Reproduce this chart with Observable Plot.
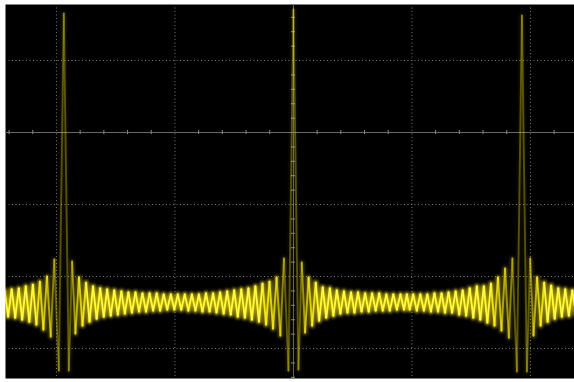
<!DOCTYPE html>
<html><head><meta charset="utf-8">
<script src="https://cdn.jsdelivr.net/npm/d3@7"></script>
<script src="https://cdn.jsdelivr.net/npm/@observablehq/plot@0.6"></script>
<style>html,body{margin:0;padding:0;background:#fff;} #chart svg{display:block}</style>
</head><body><div id="chart"></div>
<script>
// Oscilloscope record: time of each extreme (ns) and its level (V). 10 ns/div, 0.5 V/div.
const timeNs = [
-24.67,-24.38,-24.08,-23.78,-23.48,-23.18,-22.89,-22.59,-22.29,-21.99,-21.69,-21.40,-21.10,-20.80,-20.48,-20.18,-19.80,
-19.38,
-18.96,-18.68,-18.40,-18.10,-17.80,-17.50,-17.21,-16.91,-16.61,-16.31,-16.01,-15.72,-15.42,-15.12,-14.82,-14.52,
-14.23,-13.93,-13.63,-13.33,-13.03,-12.74,-12.44,-12.14,-11.84,-11.54,-11.25,-10.95,-10.65,-10.35,-10.05,
-9.76,
-9.47,-9.17,-8.87,-8.57,-8.27,-7.98,-7.68,-7.38,-7.08,-6.78,-6.49,-6.19,-5.89,-5.59,-5.29,-5.00,
-4.70,-4.40,-4.10,-3.80,-3.51,-3.21,-2.91,-2.61,-2.31,-2.02,-1.72,-1.42,-1.10,-0.80,-0.42,
0,
0.42,0.70,0.98,1.28,1.58,1.88,2.17,2.47,2.77,3.07,3.37,3.66,3.96,4.26,4.56,4.86,
5.15,5.45,5.75,6.05,6.35,6.64,6.94,7.24,7.54,7.84,8.13,8.43,8.73,9.03,9.33,
9.57,
9.81,10.11,10.41,10.71,11.01,11.30,11.60,11.90,12.20,12.50,12.79,13.09,13.39,13.69,13.99,14.28,
14.58,14.88,15.18,15.48,15.77,16.07,16.37,16.67,16.97,17.26,17.56,17.86,18.18,18.48,18.86,
19.28,
19.70,19.98,20.26,20.56,20.86,21.16,21.45,21.75,22.05,22.35,22.65,22.94,23.24,23.54,23.84
];
const volts = [
-1.264,-1.097,-1.278,-1.090,-1.285,-1.083,-1.299,-1.069,-1.313,-1.056,-1.333,-1.035,-1.368,-1.000,-1.417,-0.882,-1.653,
0.826,
-1.653,-0.896,-1.396,-1.007,-1.340,-1.042,-1.313,-1.069,-1.292,-1.083,-1.278,-1.090,-1.271,-1.097,-1.264,-1.104,
-1.257,-1.111,-1.250,-1.111,-1.243,-1.118,-1.243,-1.118,-1.236,-1.118,-1.236,-1.125,-1.229,-1.125,-1.229,
-1.125,
-1.229,-1.125,-1.236,-1.125,-1.236,-1.125,-1.243,-1.118,-1.243,-1.118,-1.250,-1.111,-1.257,-1.104,-1.264,-1.097,
-1.278,-1.090,-1.285,-1.083,-1.299,-1.069,-1.313,-1.049,-1.333,-1.035,-1.361,-1.007,-1.410,-0.875,-1.653,
0.854,
-1.646,-0.903,-1.389,-1.007,-1.340,-1.042,-1.306,-1.076,-1.285,-1.083,-1.271,-1.097,-1.257,-1.104,-1.250,-1.111,
-1.250,-1.111,-1.243,-1.118,-1.243,-1.118,-1.236,-1.118,-1.236,-1.125,-1.236,-1.125,-1.229,-1.125,-1.229,
-1.125,
-1.229,-1.125,-1.236,-1.125,-1.236,-1.125,-1.243,-1.118,-1.243,-1.118,-1.250,-1.111,-1.250,-1.104,-1.264,-1.097,
-1.271,-1.083,-1.285,-1.069,-1.299,-1.069,-1.319,-1.049,-1.340,-1.007,-1.375,-0.944,-1.424,-0.875,-1.660,
0.813,
-1.660,-0.875,-1.410,-1.007,-1.340,-1.042,-1.313,-1.063,-1.292,-1.083,-1.278,-1.090,-1.271,-1.097,-1.264
];
// graticule
const gridTimes = [-20, -10, 10, 20];
const gridVolts = [0.5, -0.5, -1.0, -1.5];
const minorTimes = [-24,-22,-18,-16,-14,-12,-8,-6,-4,-2,2,4,6,8,12,14,16,18,22];
const minorVolts = [0.8,0.7,0.6,0.4,0.3,0.2,0.1,-0.1,-0.2,-0.3,-0.4,-0.6,-0.7,-0.8,-0.9,-1.1,-1.2,-1.3,-1.4,-1.6,-1.7];

const pts = timeNs.map((t, i) => ({t, v: volts[i]}));
const segs = d3.pairs(pts).map(([a, b]) => ({t1: a.t, v1: a.v, t2: b.t, v2: b.v, dy: Math.abs(b.v - a.v) * 144}));
const bright = s => Math.max(0.3, Math.min(1, 36 / s.dy));
const seg = {x1: "t1", y1: "v1", x2: "t2", y2: "v2", clip: true, strokeLinecap: "round", strokeLinejoin: "round"};

const chart = Plot.plot({
  width: 574, height: 382,
  marginTop: 4, marginBottom: 4, marginLeft: 5, marginRight: 0,
  x: {domain: [-24.30, 23.72], axis: null},
  y: {domain: [-1.708, 0.889], axis: null},
  opacity: {type: "identity"},
  marks: [
    Plot.frame({fill: "black", stroke: null}),
    Plot.ruleX(gridTimes, {stroke: "#7a7a7a", strokeDasharray: "1,2.5"}),
    Plot.ruleY(gridVolts, {stroke: "#7a7a7a", strokeDasharray: "1,2.5"}),
    Plot.ruleX([0], {stroke: "#6a6a6a"}),
    Plot.ruleY([0], {stroke: "#6a6a6a"}),
    Plot.ruleX(minorTimes, {x: d => d, y1: () => -0.015, y2: () => 0.015, stroke: "#858585"}),
    Plot.ruleY(minorVolts, {y: d => d, x1: () => -0.17, x2: () => 0.17, stroke: "#858585"}),
    Plot.link(segs, {...seg, stroke: "#d6c400", strokeWidth: 4.8, strokeOpacity: d => Math.pow(bright(d), 2) * 0.75, ariaDescription: "glow"}),
    Plot.link(segs, {...seg, stroke: "#fff21a", strokeWidth: 1.9, strokeOpacity: d => bright(d)}),
    Plot.link(segs, {...seg, stroke: "#ffff90", strokeWidth: 0.8, strokeOpacity: d => bright(d) > 0.9 ? 0.7 : 0})
  ]
});
const defs = d3.select(chart).insert("defs", ":first-child");
defs.append("filter").attr("id", "glow").attr("x", "-20%").attr("y", "-20%").attr("width", "140%").attr("height", "140%")
  .append("feGaussianBlur").attr("stdDeviation", 1.4);
const g = chart.querySelector('[aria-description="glow"]');
if (g) g.setAttribute("filter", "url(#glow)");
document.getElementById("chart").appendChild(chart);
</script>
</body></html>
